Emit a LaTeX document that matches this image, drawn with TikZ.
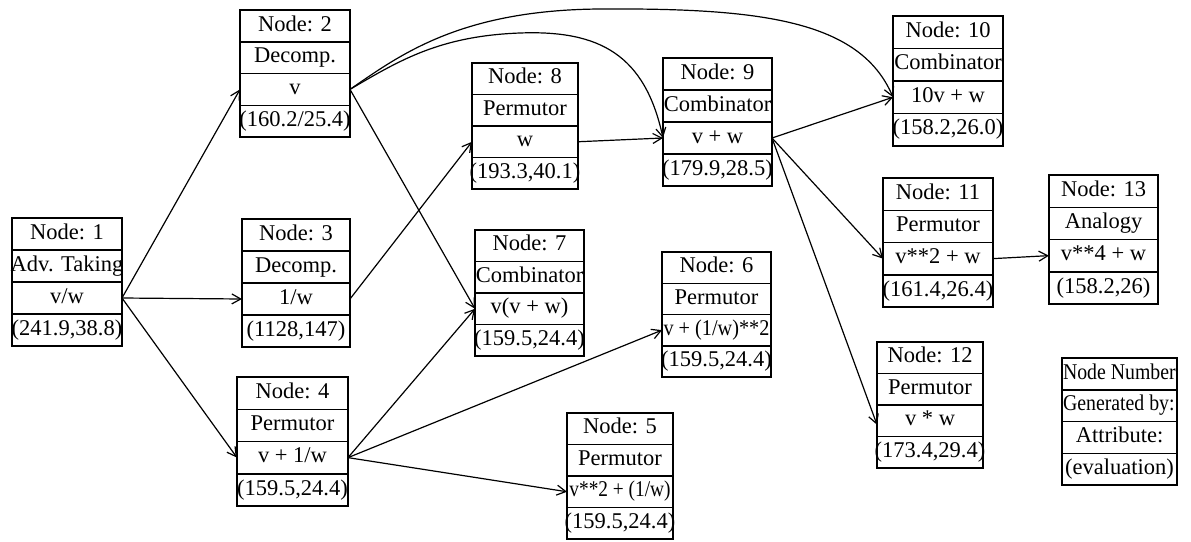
\documentclass[tikz,border=0pt]{standalone}
\usepackage{fontspec}
\usepackage{graphicx}
\setmainfont{Liberation Serif}
\usetikzlibrary{arrows.meta}
\tikzset{
  cell/.style={draw, line width=1.5pt, inner sep=0pt, outer sep=0pt,
    font=\fontsize{22.5}{26}\selectfont},
  txt/.style={inner sep=0pt, outer sep=0pt, font=\fontsize{22.5}{26}\selectfont},
  conn/.style={line width=1.2pt, -{Straight Barb[length=9pt,width=10pt,line width=1.2pt]}},
}
% name, x-left, y-top, width, row height, row1..row4
\newcommand\ibox[9]{%
  \node[cell, minimum width=#4pt, minimum height=#5pt, anchor=north west] (#1a) at (#2,#3) {\makebox[0pt]{\strut #6}};
  \node[cell, minimum width=#4pt, minimum height=#5pt, anchor=north] (#1b) at (#1a.south) {\makebox[0pt]{\strut #7}};
  \node[cell, minimum width=#4pt, minimum height=#5pt, anchor=north] (#1c) at (#1b.south) {\makebox[0pt]{\strut #8}};
  \node[cell, minimum width=#4pt, minimum height=#5pt, anchor=north] (#1d) at (#1c.south) {\makebox[0pt]{\strut #9}};
}
\begin{document}
\begin{tikzpicture}[x=1pt,y=-1pt]
\useasboundingbox (0,0) rectangle (1191,541);

\ibox{n1}{12}{218}{110}{32}{Node: 1}{Adv. Taking}{v/w}{(241.9,38.8)}
\ibox{n2}{240}{10}{110}{31.75}{Node: 2}{Decomp.}{v}{(160.2/25.4)}
\ibox{n3}{242}{219}{108}{32}{Node: 3}{Decomp.}{1/w}{(1128,147)}
\ibox{n4}{237}{377}{111}{32.25}{Node: 4}{Permutor}{v + 1/w}{(159.5,24.4)}
\ibox{n5}{567}{413}{106}{31.5}{Node: 5}{Permutor}{\scalebox{0.86}[1]{v**2 + (1/w)}}{(159.5,24.4)}
\ibox{n6}{662}{252}{109}{31.25}{Node: 6}{Permutor}{\scalebox{0.9}[1]{v + (1/w)**2}}{(159.5,24.4)}
\ibox{n7}{475}{230}{109}{31.5}{Node: 7}{Combinator}{v(v + w)}{(159.5,24.4)}
\ibox{n8}{472}{63}{106}{31.5}{Node: 8}{Permutor}{w}{(193.3,40.1)}
\ibox{n9}{663}{58}{109}{32}{Node: 9}{Combinator}{v + w}{(179.9,28.5)}
\ibox{n10}{893}{16}{110}{32.5}{Node: 10}{Combinator}{10v + w}{(158.2,26.0)}
\ibox{n11}{883}{178}{110}{32.25}{Node: 11}{Permutor}{v**2 + w}{(161.4,26.4)}
\ibox{n12}{877}{342}{106}{31.5}{Node: 12}{Permutor}{v * w}{(173.4,29.4)}
\ibox{n13}{1049}{175}{109}{32.25}{Node: 13}{Analogy}{v**4 + w}{(158.2,26)}
\ibox{lg}{1062}{358}{115}{31.75}{}{}{Attribute:}{(evaluation)}
\begin{scope}
  \clip (lga.north west) rectangle (lgb.south east);
  \node[txt, anchor=west] (lgt1) at ([xshift=1pt]lga.west) {\strut\scalebox{0.88}[1]{Node Number}};
  \node[txt, anchor=west] (lgt2) at ([xshift=1pt]lgb.west) {\strut\scalebox{0.88}[1]{Generated by:}};
\end{scope}

% connectors
\draw[conn] (n1c.east) -- (n2c.west);
\draw[conn] (n1c.east) -- (n3c.west);
\draw[conn] (n1c.east) -- (n4c.west);
\draw[conn] (n2c.east) .. controls (400,55) and (460,10) .. (600,9)
            .. controls (760,8) and (860,20) .. (n10c.west);
\draw[conn] (n2c.east) .. controls (400,60) and (440,36) .. (520,33)
            .. controls (600,30) and (645,55) .. (n9c.west);
\draw[conn] (n2c.east) -- (n7c.west);
\draw[conn] (n3c.east) -- (n8c.west);
\draw[conn] (n4c.east) -- (n7c.west);
\draw[conn] (n4c.east) -- (n6c.west);
\draw[conn] (n4c.east) -- (n5c.west);
\draw[conn] (n8c.east) -- (n9c.west);
\draw[conn] (n9c.east) -- (n10c.west);
\draw[conn] (n9c.east) -- (n11c.west);
\draw[conn] (n9c.east) -- ([yshift=-4pt]n12c.west);
\draw[conn] (n11c.east) -- (n13c.west);
\end{tikzpicture}
\end{document}
